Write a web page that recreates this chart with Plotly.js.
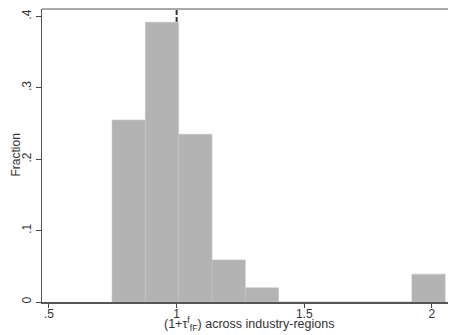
<!DOCTYPE html>
<html>
<head>
<meta charset="utf-8">
<script src="https://cdn.plot.ly/plotly-3.0.1.min.js"></script>
<style>html,body{margin:0;padding:0;background:#fff;}#chart{width:449px;height:335px;}</style>
</head>
<body>
<div id="chart"></div>
<script>
// Histogram bins (lower edges) and fractions
var binStart = [0.747, 0.8775, 1.008, 1.1385, 1.269, 1.3995, 1.53, 1.6605, 1.791, 1.9215];
var binWidth = 0.1305;
var fractions = [0.255, 0.392, 0.235, 0.059, 0.020, 0, 0, 0, 0, 0.039];
var xTickVals = [0.5, 1, 1.5, 2];
var xTickText = [".5", "1", "1.5", "2"];
var yTickVals = [0, 0.1, 0.2, 0.3, 0.4];
var yTickText = ["0", ".1", ".2", ".3", ".4"];
var refLineX = 1;
var xTitle = "(1+τ<sup>f</sup><sub>fF</sub>) across industry-regions";
var yTitle = "Fraction";

var centers = binStart.map(function (s) { return s + binWidth / 2; });

var font = {family: "Liberation Sans, Arial, sans-serif", size: 12, color: "#333"};
var titleFont = {family: "Liberation Sans, Arial, sans-serif", size: 12.5, color: "#333"};

var trace = {
  type: "bar",
  x: centers,
  y: fractions,
  width: binWidth,
  marker: {color: "#b3b3b3", line: {color: "#c4c4c4", width: 0.6}},
  hoverinfo: "skip"
};

var layout = {
  width: 449, height: 335,
  margin: {l: 42, r: 1, t: 9, b: 33, pad: 0},
  paper_bgcolor: "#fff", plot_bgcolor: "#fff",
  showlegend: false,
  font: font,
  bargap: 0,
  xaxis: {
    range: [0.4726, 2.063],
    tickvals: xTickVals, ticktext: xTickText,
    ticks: "outside", ticklen: 4, tickcolor: "#444", tickwidth: 1,
    ticklabelstandoff: -4,
    showgrid: false, zeroline: false,
    showline: true, linecolor: "#555", linewidth: 1.5,
    tickfont: font
  },
  yaxis: {
    range: [0, 0.4105],
    tickvals: yTickVals, ticktext: yTickText,
    tickangle: -90,
    ticks: "outside", ticklen: 5, tickcolor: "#444", tickwidth: 1,
    showgrid: false, zeroline: false,
    showline: true, linecolor: "#555", linewidth: 1.5,
    tickfont: font
  },
  annotations: [
    {text: xTitle, xref: "paper", yref: "paper", x: 0.51, y: -0.1141,
     xanchor: "center", yanchor: "bottom", showarrow: false, font: titleFont},
    {text: yTitle, xref: "paper", yref: "paper", x: -0.0665, y: 0.5, textangle: -90,
     xanchor: "center", yanchor: "middle", showarrow: false, font: font}
  ],
  shapes: [
    {type: "line", xref: "x", yref: "paper", x0: refLineX, x1: refLineX, y0: 0, y1: 1,
     layer: "below", line: {color: "#333", width: 2, dash: "5px,2px"}},
    {type: "line", xref: "paper", yref: "paper", x0: 0, x1: 1, y0: 1, y1: 1,
     line: {color: "#aaa", width: 2}}
  ]
};

Plotly.newPlot("chart", [trace], layout, {staticPlot: true, displayModeBar: false});
</script>
</body>
</html>
